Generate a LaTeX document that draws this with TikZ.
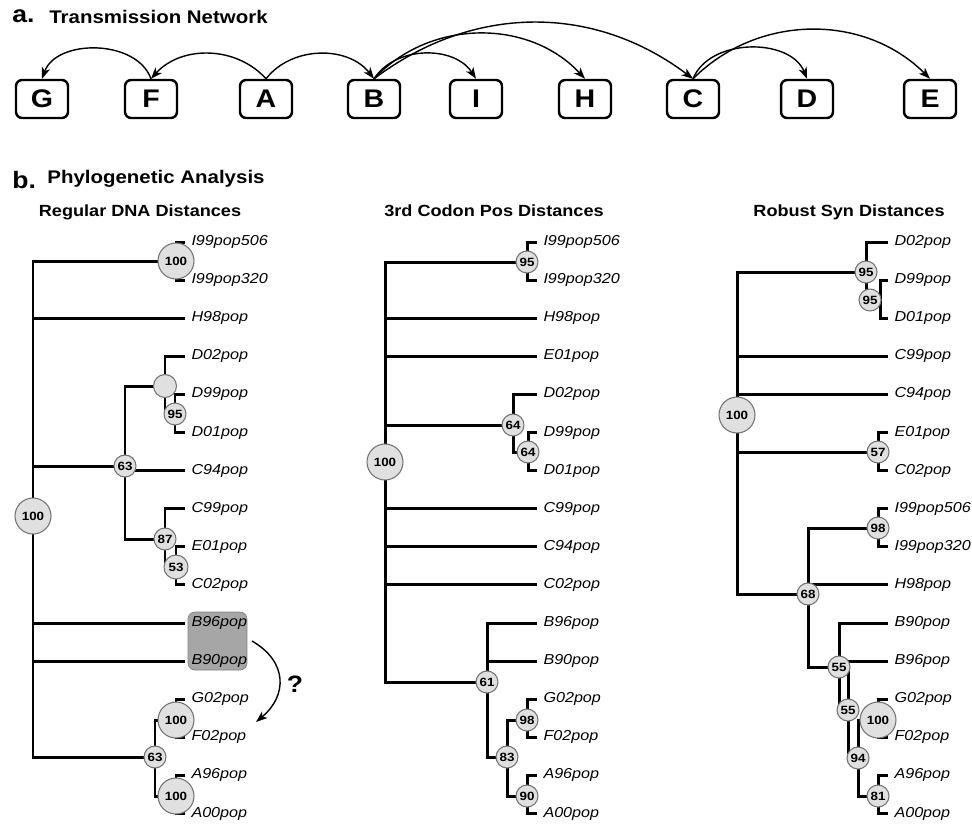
\documentclass[tikz,border=0pt]{standalone}
\usepackage{fontspec}
\setmainfont[FakeStretch=1.12]{Liberation Sans}
\usepackage{tikz}
\usetikzlibrary{arrows,arrows.meta,positioning}
\tikzset{
    %Define standard arrow tip
    >={Stealth[length=6.5pt,width=4.8pt,inset=1.8pt]},
    %Define style for host boxes
    host/.style={
           rectangle,
           rounded corners=3.5pt,
           draw=black, line width=1.4pt,
           minimum width=1.04cm,
           minimum height=0.76cm,
           font=\fontsize{14.5}{16}\selectfont\bfseries},
    % Define arrow style
    trans/.style={
           ->,
           line width=0.8pt},
    % Define tree branch style
    branch/.style={
           every edge/.style={draw, line width=1.7pt,
                              to path={|- (\tikztotarget)}}},
    % Define style for taxa
    leaf/.style={
           anchor=west,
           inner xsep=3.5pt, inner ysep=1pt,
           font=\fontsize{8.2}{9}\selectfont\itshape},
    % Define style for bootstrap values
    boot/.style={
           circle,
           draw=black!55, fill=black!12, line width=0.6pt,
           inner sep=0pt,
           minimum size=0.44cm,
           font=\fontsize{6.8}{7}\selectfont\bfseries},
    bigboot/.style={boot, minimum size=0.72cm},
    % Define style for titles
    panel/.style={anchor=base west, inner sep=0pt,
           font=\fontsize{13.5}{15}\selectfont\bfseries},
    heading/.style={anchor=base west, inner sep=0pt,
           font=\fontsize{10.4}{12}\selectfont\bfseries},
    subheading/.style={anchor=base, inner sep=0pt,
           font=\fontsize{9.2}{11}\selectfont\bfseries}
}

\begin{document}
\begin{tikzpicture}[x=0.02cm,y=-0.02cm]
\useasboundingbox (0,0) rectangle (972,825);

% a. transmission network
\node[panel](alab) at (12,22){a.};
\node[heading](atitle) at (49,23){Transmission Network};

\node[host](G) at (42,99){G};
\node[host](F) at (151,99){F};
\node[host](A) at (266,99){A};
\node[host](B) at (374,99){B};
\node[host](I) at (476,99){I};
\node[host](H) at (585,99){H};
\node[host](C) at (693,99){C};
\node[host](D) at (807,99){D};
\node[host](E) at (930,99){E};

\path[trans]
    (F.north) edge[out=110,in=70] (G.north)
    (A.north) edge[out=132,in=48] (F.north)
              edge[out=52,in=128] (B.north)
    (B.north) edge[out=57,in=123] (I.north)
              edge[out=47,in=133] (H.north)
              edge[out=37,in=143] (C.north)
    (C.north) edge[out=68,in=112] (D.north)
              edge[out=45,in=135] (E.north);

% b. phylogenetic analysis
\node[panel](blab) at (12,188){b.};
\node[heading](btitle) at (47,183){Phylogenetic Analysis};
\node[subheading](regtitle) at (140,216){Regular DNA Distances};
\node[subheading](codtitle) at (494,216){3rd Codon Pos Distances};
\node[subheading](syntitle) at (849,216){Robust Syn Distances};

%% regular DNA tree
\node[rectangle, rounded corners=4pt, draw=black!50, fill=black!35,
      minimum width=1.18cm, minimum height=1.16cm](bbox) at (217.5,641){};

\foreach \lab [count=\i from 0] in {I99pop506,I99pop320,H98pop,D02pop,D99pop,D01pop,C94pop,C99pop,E01pop,C02pop,B96pop,B90pop,G02pop,F02pop,A96pop,A00pop}
  \node[leaf](reg\i) at (185,{242+38.1*\i}){\lab};

\coordinate (regroot) at (33,516);
\coordinate (regI) at (176,261);
\coordinate (regDC) at (125,466);
\coordinate (regD) at (165,386);
\coordinate (regD2) at (175,414);
\coordinate (regC) at (165,539);
\coordinate (regC2) at (176,567);
\coordinate (regGA) at (155,757);
\coordinate (regG) at (176,720);
\coordinate (regA) at (176,796);

\path[branch]
    (regroot) edge (regI)
              edge (reg2)
              edge (regDC)
              edge (reg10)
              edge (reg11)
              edge (regGA)
    (regI)  edge (reg0)
            edge (reg1)
    (regDC) edge (regD)
            edge (reg6)
            edge (regC)
    (regD)  edge (reg3)
            edge (regD2)
    (regD2) edge (reg4)
            edge (reg5)
    (regC)  edge (reg7)
            edge (regC2)
    (regC2) edge (reg8)
            edge (reg9)
    (regGA) edge (regG)
            edge (regA)
    (regG)  edge (reg12)
            edge (reg13)
    (regA)  edge (reg14)
            edge (reg15);

\foreach \n in {regroot,regI,regG,regA}
  \node[bigboot](\n-bs) at (\n){100};
\foreach \n/\v in {regD2/95,regDC/63,regC/87,regGA/63}
  \node[boot](\n-bs) at (\n){\v};
\node[boot, minimum size=0.46cm](regD-bs) at (regD){};
\node[boot, minimum size=0.48cm](regC2-bs) at (regC2){53};

\coordinate (qfrom) at (252,641);
\coordinate (qto) at (256,722);
\draw[trans, looseness=1.3] (qfrom) to[out=-30,in=40] (qto);
\node[font=\fontsize{13.5}{15}\selectfont\bfseries](qmark) at (295,684){?};

%% 3rd codon position tree
\foreach \lab [count=\i from 0] in {I99pop506,I99pop320,H98pop,E01pop,D02pop,D99pop,D01pop,C99pop,C94pop,C02pop,B96pop,B90pop,G02pop,F02pop,A96pop,A00pop}
  \node[leaf](cod\i) at (537,{242+38.1*\i}){\lab};

\coordinate (codroot) at (385,462);
\coordinate (codI) at (527,262);
\coordinate (codD) at (513,425);
\coordinate (codD2) at (528,452);
\coordinate (codB) at (487,682);
\coordinate (codGA) at (507,757);
\coordinate (codG) at (527,720);
\coordinate (codA) at (527,796);

\path[branch]
    (codroot) edge (codI)
              edge (cod2)
              edge (cod3)
              edge (codD)
              edge (cod7)
              edge (cod8)
              edge (cod9)
              edge (codB)
    (codI)  edge (cod0)
            edge (cod1)
    (codD)  edge (cod4)
            edge (codD2)
    (codD2) edge (cod5)
            edge (cod6)
    (codB)  edge (cod10)
            edge (cod11)
            edge (codGA)
    (codGA) edge (codG)
            edge (codA)
    (codG)  edge (cod12)
            edge (cod13)
    (codA)  edge (cod14)
            edge (cod15);

\node[bigboot](codroot-bs) at (codroot){100};
\foreach \n/\v in {codI/95,codD/64,codD2/64,codB/61,codGA/83,codG/98,codA/90}
  \node[boot](\n-bs) at (\n){\v};

%% robust synonymous tree
\foreach \lab [count=\i from 0] in {D02pop,D99pop,D01pop,C99pop,C94pop,E01pop,C02pop,I99pop506,I99pop320,H98pop,B90pop,B96pop,G02pop,F02pop,A96pop,A00pop}
  \node[leaf](syn\i) at (888,{242+38.1*\i}){\lab};

\coordinate (synroot) at (737,415);
\coordinate (synD) at (866,272);
\coordinate (synD2) at (880,300);
\coordinate (synE) at (878,452);
\coordinate (synH) at (808,594);
\coordinate (synI) at (878,528);
\coordinate (synBa) at (839,667);
\coordinate (synBb) at (848,710);
\coordinate (synGA) at (858,758);
\coordinate (synG) at (878,720);
\coordinate (synA) at (878,796);

\path[branch]
    (synroot) edge (synD)
              edge (syn3)
              edge (syn4)
              edge (synE)
              edge (synH)
    (synD)  edge (syn0)
            edge (synD2)
    (synD2) edge (syn1)
            edge (syn2)
    (synE)  edge (syn5)
            edge (syn6)
    (synH)  edge (synI)
            edge (syn9)
            edge (synBa)
    (synI)  edge (syn7)
            edge (syn8)
    (synBa) edge (syn10)
            edge (synBb)
    (synBb) edge (syn11)
            edge (synGA)
    (synGA) edge (synG)
            edge (synA)
    (synG)  edge (syn12)
            edge (syn13)
    (synA)  edge (syn14)
            edge (syn15);

\node[bigboot](synroot-bs) at (synroot){100};
\node[bigboot](synG-bs) at (synG){100};
\node[boot](synD2-bs) at (870,300){95};
\foreach \n/\v in {synD/95,synE/57,synH/68,synI/98,synBa/55,synBb/55,synGA/94,synA/81}
  \node[boot](\n-bs) at (\n){\v};

\end{tikzpicture}
\end{document}
